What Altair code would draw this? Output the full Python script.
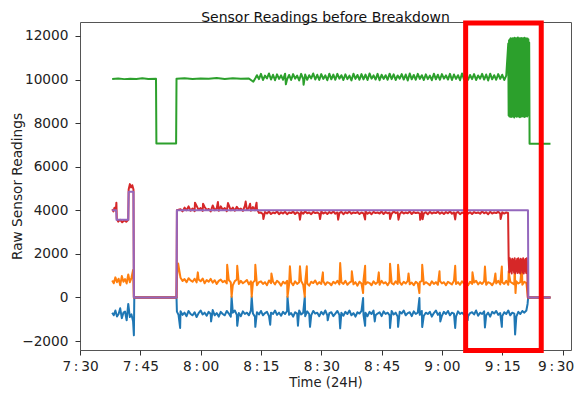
import altair as alt
import pandas as pd

# ---- time axis: minutes after midnight (450 = 7:30) ----
X_TICKS = [450, 465, 480, 495, 510, 525, 540, 555, 570]
Y_TICKS = [-2000, 0, 2000, 4000, 6000, 8000, 10000, 12000]
TITLE = ["Sensor Readings before Breakdown"]

# half-minute sampling grid for the regular readings (7:55 .. 9:21)
GRID_T = [475.0, 475.5, 476.0, 476.5, 477.0, 477.5, 478.0, 478.5, 479.0, 479.5,
          480.0, 480.5, 481.0, 481.5, 482.0, 482.5, 483.0, 483.5, 484.0, 484.5,
          485.0, 485.5, 486.0, 486.5, 487.0, 487.5, 488.0, 488.5, 489.0, 489.5,
          490.0, 490.5, 491.0, 491.5, 492.0, 492.5, 493.0, 493.5, 494.0, 494.5,
          495.0, 495.5, 496.0, 496.5, 497.0, 497.5, 498.0, 498.5, 499.0, 499.5,
          500.0, 500.5, 501.0, 501.5, 502.0, 502.5, 503.0, 503.5, 504.0, 504.5,
          505.0, 505.5, 506.0, 506.5, 507.0, 507.5, 508.0, 508.5, 509.0, 509.5,
          510.0, 510.5, 511.0, 511.5, 512.0, 512.5, 513.0, 513.5, 514.0, 514.5,
          515.0, 515.5, 516.0, 516.5, 517.0, 517.5, 518.0, 518.5, 519.0, 519.5,
          520.0, 520.5, 521.0, 521.5, 522.0, 522.5, 523.0, 523.5, 524.0, 524.5,
          525.0, 525.5, 526.0, 526.5, 527.0, 527.5, 528.0, 528.5, 529.0, 529.5,
          530.0, 530.5, 531.0, 531.5, 532.0, 532.5, 533.0, 533.5, 534.0, 534.5,
          535.0, 535.5, 536.0, 536.5, 537.0, 537.5, 538.0, 538.5, 539.0, 539.5,
          540.0, 540.5, 541.0, 541.5, 542.0, 542.5, 543.0, 543.5, 544.0, 544.5,
          545.0, 545.5, 546.0, 546.5, 547.0, 547.5, 548.0, 548.5, 549.0, 549.5,
          550.0, 550.5, 551.0, 551.5, 552.0, 552.5, 553.0, 553.5, 554.0, 554.5,
          555.0, 555.5, 556.0, 556.5, 557.0, 557.5, 558.0, 558.5, 559.0, 559.5,
          560.0, 560.5, 561.0]

# ---- sensor 1 (blue) ----
blue_t0 = [458.0, 458.4, 458.8, 459.2, 459.6, 460.0, 460.4, 460.8, 461.2, 461.6,
           462.0, 462.4, 462.8, 463.2, 463.4, 463.5, 474.0, 474.1, 474.5, 474.9]
blue_v0 = [-700, -820, -600, -880, -760, -500, -950, -700, -650, -1050,
           -300, -900, -780, -1100, -1740, 0, 0, -650, -800, -1400]
blue_grid = [-640, -800, -700, -860, -620, -760, -820, -680, -900, -720,
             -600, -780, -700, -840, -660, -760, -580, -820, -720, -880,
             -660, -760, -820, -620, -740, -880, -700, -600, -800, -720,
             -860, -640, -760, -700, -820, -600, -740, -880, -680, -780,
             -620, -820, -720, -660, -860, -700, -760, -600, -800, -700,
             -840, -660, -760, -620, -800, -720, -880, -680, -740, -600,
             -780, -700, -860, -640, -760, -820, -620, -740, -700, -860,
             -660, -780, -600, -820, -720, -680, -860, -740, -620, -800,
             -700, -840, -660, -760, -600, -820, -720, -880, -680, -740,
             -620, -800, -700, -860, -660, -760, -600, -820, -740, -680,
             -860, -640, -760, -700, -820, -620, -780, -700, -880, -660,
             -740, -600, -820, -720, -680, -860, -640, -760, -700, -800,
             -620, -840, -700, -760, -660, -880, -720, -600, -800, -700,
             -840, -660, -760, -620, -820, -700, -740, -880, -640, -760,
             -700, -800, -620, -860, -720, -680, -780, -600, -840, -700,
             -760, -640, -820, -700, -880, -660, -740, -620, -800, -720,
             -860, -680, -760, -600, -820, -700, -740, -880, -660, -760,
             -620, -700, -600]
blue_spike_t = [482.6, 487.7, 489.1, 492.7, 493.6, 497.3, 501.6, 504.2, 505.9, 507.2,
                511.6, 514.7, 520.4, 520.9, 523.3, 527.1, 529.1, 534.4, 535.1, 539.6,
                543.3, 546.4, 550.7, 554.9, 558.2]
blue_spike_v = [-1100, 30, -1300, 30, -1350, -1250, 30, -1300, 30, -1350,
                -1050, -1420, -30, -1300, -1100, -1400, -1350, -30, -1360, -1100,
                -1400, -1050, -1380, -1350, -1700]
blue_t_end = [561.3, 561.45, 567.0]
blue_v_end = [-300, 0, 0]

# ---- sensor 2 (orange) ----
orange_t0 = [458.0, 458.4, 458.8, 459.2, 459.6, 460.0, 460.4, 460.8, 461.2, 461.6,
             462.0, 462.4, 462.8, 463.2, 463.4, 474.0, 474.1, 474.4]
orange_v0 = [780, 650, 920, 700, 860, 560, 980, 720, 840, 640,
             1050, 700, 900, 1260, 0, 0, 900, 1560]
orange_grid = [900, 760, 840, 700, 880, 780, 720, 860, 690, 820,
               740, 870, 650, 800, 720, 850, 680, 790, 620, 760,
               820, 700, 760, 640, 800, 690, 560, 750, 820, 620,
               760, 650, 720, 800, 600, 740, 680, 780, 560, 700,
               740, 620, 700, 560, 780, 650, 720, 600, 760, 680,
               540, 720, 640, 760, 600, 700, 560, 740, 620, 700,
               760, 580, 700, 640, 540, 720, 660, 780, 600, 700,
               620, 740, 580, 700, 660, 560, 720, 640, 760, 600,
               700, 620, 760, 580, 680, 740, 600, 700, 540, 720,
               640, 780, 600, 700, 660, 560, 740, 620, 700, 580,
               760, 640, 700, 560, 720, 660, 600, 740, 620, 700,
               580, 720, 640, 760, 600, 680, 560, 720, 640, 700,
               760, 600, 700, 640, 560, 740, 620, 700, 580, 760,
               640, 700, 560, 720, 660, 600, 760, 620, 700, 580,
               740, 640, 700, 560, 720, 620, 680, 760, 600, 700,
               620, 740, 580, 700, 660, 560, 720, 640, 760, 600,
               700, 620, 760, 580, 720, 660, 600, 740, 640, 700,
               580, 720, 660]
orange_spike_t = [479.3, 486.6, 487.7, 489.1, 492.7, 493.6, 497.6, 501.6, 502.2, 504.7,
                  505.9, 506.4, 510.4, 514.7, 517.6, 520.4, 520.9, 524.3, 527.1, 529.1,
                  531.7, 534.4, 535.1, 539.4, 543.3, 547.6, 550.7, 553.3, 554.9, 556.6,
                  558.1, 558.3, 559.9]
orange_spike_v = [1150, 1500, 30, 1450, 30, 1500, 1100, 30, 1430, 1430,
                  30, 1430, 1150, 1580, 1200, 200, 1450, 1150, 1550, 1500,
                  1100, 200, 1500, 1200, 1450, 1150, 1420, 1100, 1420, 1200,
                  1380, 200, 1480]
orange_t_end = [561.4, 567.0]
orange_v_end = [0, 0]

# ---- sensor 3 (green) ----
green_t0 = [458.0, 459.5, 461.0, 462.5, 464.0, 465.5, 467.0, 468.9, 469.0, 471.5,
            473.9, 474.0, 476.0, 478.0, 480.0, 482.0, 484.0, 486.0, 488.0, 490.0,
            492.0, 493.1, 493.6]
green_v0 = [10030, 10050, 10020, 10040, 10030, 10060, 10030, 10040, 7060, 7060,
            7060, 10040, 10060, 10030, 10050, 10040, 10070, 10030, 10060, 10040,
            10050, 9900, 10060]
green_grid = [10200, 10020, 10260, 9980, 10180, 10050, 10280, 10000, 10220, 9970,
              10240, 10030, 10190, 9990, 10270, 10010, 10210, 9980, 10250, 10040,
              10180, 9960, 10260, 10020, 10230, 9990, 10200, 10050, 10280, 10000,
              10220, 9980, 10250, 10030, 10190, 9970, 10270, 10010, 10230, 9990,
              10260, 10040, 10200, 9980, 10240, 10020, 10180, 9960, 10270, 10030,
              10210, 9990, 10250, 10010, 10230, 9980, 10280, 10040, 10190, 10000,
              10260, 9970, 10220, 10030, 10200, 9990, 10270, 10020, 10240, 9980,
              10190, 10040, 10250, 10000, 10230, 9960, 10280, 10010, 10210, 9990,
              10260, 10030, 10200, 9980, 10240, 10020, 10180, 9970, 10270, 10010,
              10220, 9990, 10250, 10040, 10190, 10000, 10260, 9980, 10230, 10030,
              10200, 9970, 10280, 10010, 10240, 9990, 10210, 10020, 10250, 9980,
              10190, 10040, 10260, 10000, 10230, 9960, 10270, 10010, 10200, 9990,
              10250, 10030, 10220, 9980, 10180]
green_dip_t = [501.2, 505.6]
green_dip_v = [9780, 9760]
green_osc_t = [556.5, 556.6, 556.7, 556.8, 556.9, 557.0, 557.1, 557.2, 557.3, 557.4,
               557.5, 557.6, 557.7, 557.8, 557.9, 558.0, 558.1, 558.2, 558.3, 558.4,
               558.5, 558.6, 558.7, 558.8, 558.9, 559.0, 559.1, 559.2, 559.3, 559.4,
               559.5, 559.6, 559.7, 559.8, 559.9, 560.0, 560.1, 560.2, 560.3, 560.4,
               560.5, 560.6, 560.7, 560.8, 560.9, 561.0, 561.1, 561.2, 561.3, 561.4,
               561.5, 561.6, 561.7]
green_osc_v = [11650, 8350, 11800, 8300, 11850, 8420, 11900, 8280, 11820, 8350,
               11880, 8300, 11900, 8400, 11850, 8260, 11920, 8330, 11870, 8380,
               11900, 8290, 11850, 8350, 11930, 8300, 11880, 8420, 11900, 8270,
               11860, 8340, 11910, 8300, 11870, 8380, 11900, 8310, 11850, 8350,
               11920, 8280, 11880, 8400, 11900, 8330, 11860, 8300, 11890, 8360,
               11850, 8450, 11700]
green_t_end = [561.8, 567.0]
green_v_end = [7050, 7050]

# ---- sensor 4 (red) ----
red_t0 = [458.0, 458.3, 458.6, 458.9, 459.05, 459.15, 459.5, 460.0, 460.5, 461.0,
          461.5, 462.0, 462.1, 462.4, 462.7, 463.0, 463.3, 463.4, 474.0, 474.1]
red_v0 = [4050, 3950, 4120, 3980, 4350, 3600, 3480, 3560, 3450, 3540,
          3470, 3560, 4950, 5200, 5050, 5150, 4950, 0, 0, 4000]
red_grid = [4050, 3950, 4120, 4000, 4180, 3980, 4080, 3960, 4200, 4020,
            4100, 3970, 4150, 4010, 4060, 3950, 4220, 4000, 4090, 3980,
            4180, 4020, 4100, 3960, 4240, 4000, 4120, 3980, 4160, 4030,
            4080, 3970, 4200, 4010, 4120, 3980, 4150, 4000, 4060, 3880,
            3900, 3820, 3920, 3850, 3940, 3830, 3900, 3860, 3950, 3820,
            3910, 3850, 3930, 3820, 3900, 3870, 3940, 3830, 3910, 3850,
            3920, 3840, 3950, 3860, 3900, 3820, 3930, 3870, 3900, 3840,
            3940, 3850, 3910, 3830, 3920, 3860, 3950, 3840, 3900, 3870,
            3930, 3820, 3910, 3860, 3940, 3840, 3900, 3870, 3920, 3830,
            3900, 3860, 3950, 3840, 3910, 3820, 3930, 3870, 3900, 3850,
            3940, 3830, 3920, 3860, 3900, 3840, 3950, 3870, 3910, 3820,
            3930, 3850, 3900, 3860, 3940, 3830, 3920, 3870, 3900, 3840,
            3950, 3860, 3910, 3820, 3930, 3850, 3900, 3870, 3940, 3840,
            3910, 3830, 3920, 3860, 3950, 3840, 3900, 3870, 3930, 3820,
            3900, 3860, 3940, 3850, 3910, 3830, 3920, 3870, 3900, 3840,
            3950, 3860, 3910, 3820, 3930, 3850, 3900, 3870, 3940, 3840,
            3910, 3850, 3900]
red_spike_t = [478.6, 480.6, 484.3, 486.8, 491.2, 492.3, 493.9, 495.6, 504.7, 509.7,
               514.2, 520.9, 527.1, 529.2, 534.6, 535.2, 543.3, 554.6]
red_spike_v = [4350, 4300, 4380, 4330, 4400, 4300, 4350, 3600, 3570, 3600,
               3570, 3580, 3600, 3570, 3560, 3590, 3580, 3600]
red_band_t = [556.45, 556.6, 556.75, 556.9, 557.05, 557.2, 557.35, 557.5, 557.65, 557.8,
              557.95, 558.1, 558.25, 558.4, 558.55, 558.7, 558.85, 559.0, 559.15, 559.3,
              559.45, 559.6, 559.75, 559.9, 560.05, 560.2, 560.35, 560.5, 560.65, 560.8,
              560.95, 561.1, 561.25]
red_band_v = [3880, 1750, 1150, 1800, 1200, 1700, 1100, 1780, 1250, 1720,
              1150, 1800, 1100, 1650, 1200, 1760, 1120, 1800, 1180, 1700,
              1100, 1780, 1250, 1720, 1150, 1800, 1100, 1690, 1200, 1760,
              1120, 1800, 1300]
red_t_end = [561.35, 567.0]
red_v_end = [0, 0]

# ---- sensor 5 (purple) ----
purple_t = [458.0, 459.0, 459.1, 462.0, 462.1, 463.3, 463.4, 474.0, 474.1, 561.4, 561.5, 567.0]
purple_v = [4000, 4000, 3560, 3560, 4850, 4850, 0, 0, 4000, 4000, 0, 0]

# highlighted window (9:06 - 9:25)
box_t = [545.9]
box_t2 = [564.7]
box_v = [-2437]
box_v2 = [12596]


def frame(*parts):
    rows = []
    for ts, vs in parts:
        rows.extend(zip(ts, vs))
    rows.sort(key=lambda r: r[0])
    return pd.DataFrame({"t": [r[0] for r in rows], "v": [r[1] for r in rows]})


blue_df = frame((blue_t0, blue_v0), (GRID_T, blue_grid), (blue_spike_t, blue_spike_v),
                (blue_t_end, blue_v_end))
orange_df = frame((orange_t0, orange_v0), (GRID_T, orange_grid),
                  (orange_spike_t, orange_spike_v), (orange_t_end, orange_v_end))
green_df = frame((green_t0, green_v0), (GRID_T[38:163], green_grid), (green_dip_t, green_dip_v),
                 (green_osc_t, green_osc_v), (green_t_end, green_v_end))
red_df = frame((red_t0, red_v0), (GRID_T[:163], red_grid), (red_spike_t, red_spike_v),
               (red_band_t, red_band_v), (red_t_end, red_v_end))
purple_df = frame((purple_t, purple_v))
box_df = pd.DataFrame({"t": box_t, "t2": box_t2, "v": box_v, "v2": box_v2})
title_df = pd.DataFrame({"label": TITLE})

FONT = "DejaVu Sans"
SEP = "\u2009:\u2009"
W, H = 491, 328

x_axis = alt.Axis(
    values=X_TICKS,
    labelExpr="floor(datum.value / 60) + '" + SEP + "' + (datum.value % 60 < 10 ? '0' : '') + (datum.value % 60)",
    labelOffset={"condition": {"test": "datum.value >= 570", "value": -7}, "value": 0},
    title="Time (24H)", titleX=W / 2, titleY=36, titleBaseline="alphabetic", titleAlign="center",
    titleFontSize=13.2, tickSize=5, labelPadding=4, labelFlush=False, labelOverlap=False,
)
y_axis = alt.Axis(
    values=Y_TICKS, format="d",
    title="Raw Sensor Readings", titleX=-59, titleY=164, titleAngle=270,
    titleBaseline="alphabetic", titleAlign="center",
    tickSize=5, labelPadding=7,
)
x_enc = alt.X("t:Q", scale=alt.Scale(domain=[450.0, 572.1], nice=False, zero=False), axis=x_axis)
y_enc = alt.Y("v:Q", scale=alt.Scale(domain=[-2413, 12642], nice=False, zero=False), axis=y_axis)


def line(df, color):
    return alt.Chart(df).mark_line(color=color, strokeWidth=2, strokeJoin="round").encode(x=x_enc, y=y_enc)


box = alt.Chart(box_df).mark_rect(fill=None, fillOpacity=0, stroke="#ff0000", strokeWidth=5).encode(
    x=x_enc, x2="t2:Q", y=y_enc, y2="v2:Q"
)

title = alt.Chart(title_df).mark_text(
    font=FONT, fontSize=14, color="#111111", align="center", baseline="alphabetic"
).encode(text="label:N", x=alt.value(W / 2), y=alt.value(-0.5))

chart = alt.layer(
    line(blue_df, "#1f77b4"),
    line(orange_df, "#ff7f0e"),
    line(green_df, "#2ca02c"),
    line(red_df, "#d62728"),
    line(purple_df, "#9467bd"),
    box,
    title,
).properties(
    width=W,
    height=H,
    autosize=alt.AutoSizeParams(type="none"),
    padding={"left": 72, "top": 14, "right": 3, "bottom": 40},
).configure_view(
    stroke="#555555", strokeWidth=1
).configure_axis(
    grid=False, domain=False, labelFont=FONT, titleFont=FONT, labelFontSize=13.7,
    titleFontSize=13.7, titleFontWeight="normal", labelColor="#222222", titleColor="#222222",
    tickColor="#333333",
)

chart.save("out.html", embed_options={"renderer": "svg", "actions": False})
